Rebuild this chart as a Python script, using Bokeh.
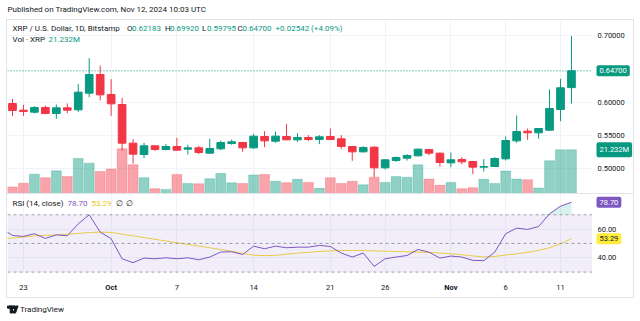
import numpy as np
import pandas as pd
from bokeh.plotting import figure
from bokeh.layouts import column, row
from bokeh.models import (Range1d, FixedTicker, Label, Span,
                          BoxAnnotation, ColumnDataSource, Spacer)
from bokeh.embed import file_html
from bokeh.resources import INLINE
from bokeh.core.properties import value

# ---------------- data ----------------
dates = pd.date_range("2024-09-22", "2024-11-12", freq="D")

opens = [0.598, 0.588, 0.585, 0.592, 0.583, 0.5915, 0.5885, 0.6135, 0.6415, 0.6115,
         0.5965, 0.5385, 0.5215, 0.5345, 0.529, 0.5335, 0.5295, 0.5315, 0.5235, 0.530,
         0.538, 0.5395, 0.5315, 0.5485, 0.5415, 0.5485, 0.5435, 0.547, 0.544, 0.5485,
         0.545, 0.5335, 0.5255, 0.5325, 0.5015, 0.5125, 0.516, 0.5195, 0.529, 0.5235,
         0.509, 0.514, 0.511, 0.5025, 0.5035, 0.515, 0.542, 0.5565, 0.554, 0.558,
         0.589, 0.62183]
highs = [0.605, 0.596, 0.594, 0.595, 0.5965, 0.598, 0.627, 0.666, 0.655, 0.6345,
         0.6065, 0.5445, 0.539, 0.5355, 0.5375, 0.5465, 0.536, 0.5345, 0.545, 0.5425,
         0.544, 0.540, 0.5525, 0.5565, 0.556, 0.567, 0.5535, 0.5505, 0.5505, 0.5605,
         0.5505, 0.5345, 0.534, 0.534, 0.5145, 0.5185, 0.522, 0.5305, 0.5295, 0.5245,
         0.5245, 0.5175, 0.5115, 0.5145, 0.5175, 0.5485, 0.580, 0.5605, 0.5615, 0.619,
         0.635, 0.69920]
lows = [0.579, 0.5795, 0.583, 0.582, 0.575, 0.5835, 0.5855, 0.6075, 0.6025, 0.5795,
        0.5275, 0.508, 0.516, 0.527, 0.528, 0.5275, 0.5215, 0.522, 0.523, 0.528,
        0.536, 0.5255, 0.530, 0.5325, 0.539, 0.543, 0.5405, 0.5415, 0.537, 0.543,
        0.530, 0.512, 0.5245, 0.4875, 0.499, 0.5105, 0.5125, 0.5185, 0.5205, 0.5035,
        0.5025, 0.507, 0.492, 0.496, 0.5025, 0.5125, 0.539, 0.5435, 0.545, 0.557,
        0.5715, 0.59795]
closes = [0.5875, 0.586, 0.592, 0.583, 0.5915, 0.588, 0.615, 0.6415, 0.611, 0.5975,
          0.5385, 0.522, 0.5345, 0.529, 0.5335, 0.528, 0.5315, 0.5245, 0.5305, 0.5395,
          0.5405, 0.5315, 0.549, 0.542, 0.549, 0.5435, 0.547, 0.544, 0.548, 0.544,
          0.5335, 0.5255, 0.532, 0.5015, 0.5135, 0.517, 0.520, 0.5295, 0.5235, 0.5095,
          0.5135, 0.5105, 0.5025, 0.5035, 0.5155, 0.5425, 0.556, 0.554, 0.5605, 0.5905,
          0.62158, 0.64700]
volumes = [3.2, 5.0, 9.4, 7.7, 11.0, 8.2, 17.0, 14.7, 10.7, 11.9,
           21.7, 14.0, 7.7, 2.35, 2.0, 9.2, 4.9, 4.7, 7.2, 9.7,
           5.2, 4.9, 9.0, 9.2, 5.9, 5.2, 6.9, 5.4, 2.5, 7.7,
           4.9, 5.9, 4.2, 7.9, 5.4, 8.2, 7.9, 13.9, 7.0, 4.0,
           5.4, 2.35, 2.85, 6.9, 4.9, 10.9, 7.0, 6.7, 2.7, 15.9,
           21.2, 21.232]  # millions

# RSI series start one day earlier (Sep 21) so the line reaches the pane edge
rsi_dates = pd.date_range("2024-09-21", "2024-11-12", freq="D")
rsi = [60.4, 55.6, 54.9, 56.8, 53.5, 56.0, 55.4, 63.7, 70.0, 57.9, 53.3,
       39.3, 36.6, 39.8, 39.3, 40.0, 39.3, 40.0, 38.6, 40.5, 44.0,
       44.2, 42.3, 48.1, 46.3, 48.1, 47.0, 47.4, 47.4, 48.6, 47.9,
       43.3, 40.5, 43.3, 34.0, 39.3, 40.5, 41.6, 45.8, 43.9, 39.8,
       41.2, 40.5, 38.2, 38.0, 43.9, 56.8, 60.7, 59.8, 61.8, 70.7,
       76.0, 78.70]
rsi_ma = [53.0, 53.8, 54.5, 55.3, 55.6, 55.9, 56.5, 57.0, 57.6, 57.9, 57.7,
          56.5, 55.3, 54.1, 52.9, 51.7, 50.5, 49.3, 48.1, 47.0, 45.8,
          44.6, 43.0, 41.8, 41.5, 41.7, 42.4, 43.2, 43.8, 44.4, 44.8,
          45.0, 45.1, 45.0, 44.8, 44.6, 44.4, 44.2, 44.0, 43.7, 43.3,
          42.8, 42.1, 41.3, 40.6, 40.9, 41.9, 42.8, 43.8, 45.2, 47.0,
          49.8, 53.29]

tick_dates = ["2024-09-23", "2024-10-01", "2024-10-07", "2024-10-14", "2024-10-21",
              "2024-10-26", "2024-11-01", "2024-11-06", "2024-11-11"]
tick_labels = ["23", "Oct", "7", "14", "21", "26", "Nov", "6", "11"]
price_ticks = [0.50, 0.55, 0.60, 0.70]
rsi_ticks = [40, 60]

# ---------------- styling ----------------
GREEN = "#089981"
RED = "#F23645"
PURPLE = "#7E57C2"
YELLOW = "#F5D93A"
TXT = "#131722"
GRID = "#F0F3FA"
BORDER = "#E0E3EB"
FONT = "Roboto"

idx = np.arange(len(dates))
rsi_x = np.array([(d - dates[0]).days for d in rsi_dates])
tick_ts = [pd.Timestamp(t) for t in tick_dates]
tick_pos = [int((t - dates[0]).days) for t in tick_ts]
tick_style = ["bold" if t.day == 1 else "normal" for t in tick_ts]

o = np.array(opens); c = np.array(closes); h = np.array(highs); l = np.array(lows)
colors = [GREEN if cc >= oo else RED for oo, cc in zip(o, c)]
src = ColumnDataSource(dict(x=idx, o=o, c=c, h=h, l=l, top=np.maximum(o, c),
                            bot=np.minimum(o, c), vol=volumes, color=colors))

XR = Range1d(-0.456, 52.92)
PR = Range1d(0.463, 0.7225)
VR = Range1d(0, 84)
RR = Range1d(29.03, 84.15)


def bare(p):
    p.axis.visible = False
    p.grid.visible = False
    p.outline_line_color = None


def lab(p, x, y, text, color=TXT, size="8px", dx=0, dy=0, bg=None, style="normal",
        align="left", pad=0, yr="default"):
    kw = {}
    if bg is not None:
        kw = dict(background_fill_color=bg, padding=pad, border_radius=2)
    p.add_layout(Label(x=x, y=y, x_offset=dx, y_offset=dy, text=text, text_color=color,
                       text_font=FONT, text_font_size=size, text_baseline="middle",
                       text_align=align, text_font_style=style, y_range_name=yr, **kw))


def hline(w, hgt):
    return Spacer(width=w, height=hgt, styles={"background-color": BORDER})


# ---------------- header ----------------
p_head = figure(width=640, height=19, x_range=Range1d(0, 640), y_range=Range1d(0, 19),
                output_backend="svg", toolbar_location=None, min_border=0)
bare(p_head)
lab(p_head, 7, 10, "Published on TradingView.com, Nov 12, 2024 10:03 UTC", size="8px")

# ---------------- price pane ----------------
p1 = figure(width=585, height=173, x_range=XR, y_range=PR,
            output_backend="svg", toolbar_location=None, min_border=0)
p1.outline_line_color = None
p1.axis.visible = False
p1.extra_y_ranges = {"vol": VR}
p1.xgrid.ticker = FixedTicker(ticks=tick_pos)
p1.xgrid.grid_line_color = GRID
p1.ygrid.ticker = FixedTicker(ticks=price_ticks)
p1.ygrid.grid_line_color = GRID

p1.vbar(x="x", top="vol", bottom=0, width=0.9, source=src, y_range_name="vol",
        fill_color="color", line_color="color", fill_alpha=0.45, line_alpha=0.25)
p1.segment(x0="x", y0="l", x1="x", y1="h", source=src, line_color="color", line_width=1)
p1.vbar(x="x", top="top", bottom="bot", width=0.7, source=src,
        fill_color="color", line_color="color", line_width=1)
p1.add_layout(Span(location=closes[-1], dimension="width", line_color=GREEN,
                   line_dash="1 2", line_width=1))

chg = closes[-1] - closes[-2]
pct = chg / closes[-2] * 100
ytop = PR.end
xl = XR.start
lab(p1, xl, ytop, "XRP / U.S. Dollar, 1D, Bitstamp", dx=5, dy=-7.7)
for letter, val, lx in [("O", opens[-1], 126.5), ("H", highs[-1], 164.5),
                        ("L", lows[-1], 201.5), ("C", closes[-1], 237.0)]:
    lab(p1, xl, ytop, letter, dx=lx - 7, dy=-7.7)
    lab(p1, xl, ytop, f"{val:.5f}", color=GREEN, dx=lx - 7 + 5, dy=-7.7)
lab(p1, xl, ytop, f"{chg:+.5f} ({pct:+.2f}%)", color=GREEN, dx=275 - 7, dy=-7.7)
lab(p1, xl, ytop, "Vol · XRP", dx=5, dy=-18.7)
lab(p1, xl, ytop, f"{volumes[-1]:.3f}M", color=GREEN, dx=48 - 7, dy=-18.7)

# price scale (right strip of the price pane)
p1r = figure(width=41, height=173, x_range=Range1d(0, 41), y_range=PR,
             output_backend="svg", toolbar_location=None, min_border=0)
bare(p1r)
p1r.extra_y_ranges = {"vol": VR}
p1r.text(x=5, y=price_ticks, text=[f"{v:.5f}" for v in price_ticks],
         text_font=value(FONT), text_font_size=value("7.5px"), text_color=TXT,
         text_baseline="middle")
lab(p1r, 4, closes[-1], f"{closes[-1]:.5f}", color="white", bg=GREEN, size="7.5px", pad=3)
lab(p1r, 4, volumes[-1], f"{volumes[-1]:.3f}M", color="white", bg=GREEN, size="7.5px",
    pad=3, yr="vol")

# ---------------- RSI pane ----------------
p2 = figure(width=585, height=79, x_range=XR, y_range=RR,
            output_backend="svg", toolbar_location=None, min_border=0)
p2.outline_line_color = None
p2.axis.visible = False
p2.xgrid.ticker = FixedTicker(ticks=tick_pos)
p2.xgrid.grid_line_color = GRID
p2.ygrid.ticker = FixedTicker(ticks=rsi_ticks)
p2.ygrid.grid_line_color = GRID

p2.add_layout(BoxAnnotation(bottom=30, top=70, fill_color=PURPLE, fill_alpha=0.1,
                            line_color=None))
for lv in (70, 50, 30):
    p2.add_layout(Span(location=lv, dimension="width", line_color="#787B86",
                       line_dash="3 3", line_width=1, line_alpha=0.7))
rsi_arr = np.array(rsi)
p2.varea(x=rsi_x, y1=np.full(len(rsi_arr), 70.0), y2=np.maximum(rsi_arr, 70.0),
         fill_color=GREEN, fill_alpha=0.15)
p2.line(rsi_x, rsi_ma, line_color=YELLOW, line_width=1)
p2.line(rsi_x, rsi, line_color=PURPLE, line_width=1)

ytop2 = RR.end
lab(p2, xl, ytop2, "RSI (14, close)", dx=5, dy=-9.3)
lab(p2, xl, ytop2, f"{rsi[-1]:.2f}", color=PURPLE, dx=67 - 7, dy=-9.3)
lab(p2, xl, ytop2, f"{rsi_ma[-1]:.2f}", color="#E8C81E", dx=91 - 7, dy=-9.3)
lab(p2, xl, ytop2, "∅", dx=115 - 7, dy=-9.3)
lab(p2, xl, ytop2, "∅", dx=125 - 7, dy=-9.3)

p2r = figure(width=41, height=79, x_range=Range1d(0, 41), y_range=RR,
             output_backend="svg", toolbar_location=None, min_border=0)
bare(p2r)
p2r.text(x=5, y=rsi_ticks, text=[f"{v:.2f}" for v in rsi_ticks],
         text_font=value(FONT), text_font_size=value("7.5px"), text_color=TXT,
         text_baseline="middle")
lab(p2r, 4, rsi[-1], f"{rsi[-1]:.2f}", color="white", bg=PURPLE, size="7.5px", pad=3)
lab(p2r, 4, rsi_ma[-1], f"{rsi_ma[-1]:.2f}", color=TXT, bg="#FFEB3B", size="7.5px", pad=3)

# ---------------- time scale strip ----------------
p_time = figure(width=585, height=24, x_range=XR, y_range=Range1d(0, 24),
                output_backend="svg", toolbar_location=None, min_border=0)
bare(p_time)
p_time.text(x=tick_pos, y=10, text=tick_labels, text_font=value(FONT),
            text_font_size=value("7.5px"), text_color=TXT, text_align="center",
            text_baseline="middle", text_font_style=tick_style)

# ---------------- footer ----------------
p_foot = figure(width=640, height=23, x_range=Range1d(0, 640), y_range=Range1d(0, 23),
                output_backend="svg", toolbar_location=None, min_border=0)
bare(p_foot)
p_foot.quad(left=[7], right=[12], top=[15.5], bottom=[13.3], color=TXT)
p_foot.quad(left=[9.7], right=[12], top=[15.5], bottom=[8.5], color=TXT)
p_foot.scatter(x=[13.6], y=[14.3], size=3, color=TXT)
p_foot.patch(x=[15.2, 17.6, 15.0, 12.6], y=[15.5, 15.5, 8.5, 8.5], color=TXT)
lab(p_foot, 19.5, 12, "TradingView", size="8px")

# ---------------- assemble with a light frame ----------------
inner = column(row(p1, p1r), hline(626, 1), row(p2, p2r),
               row(p_time, Spacer(width=41, height=24)))
framed = row(Spacer(width=6, height=277), hline(1, 277), inner, hline(1, 277),
             Spacer(width=6, height=277))
top_border = row(Spacer(width=6, height=1), hline(628, 1), Spacer(width=6, height=1))
bot_border = row(Spacer(width=6, height=1), hline(628, 1), Spacer(width=6, height=1))
layout = column(p_head, top_border, framed, bot_border, p_foot)
open("out.html", "w").write(file_html(layout, INLINE))
